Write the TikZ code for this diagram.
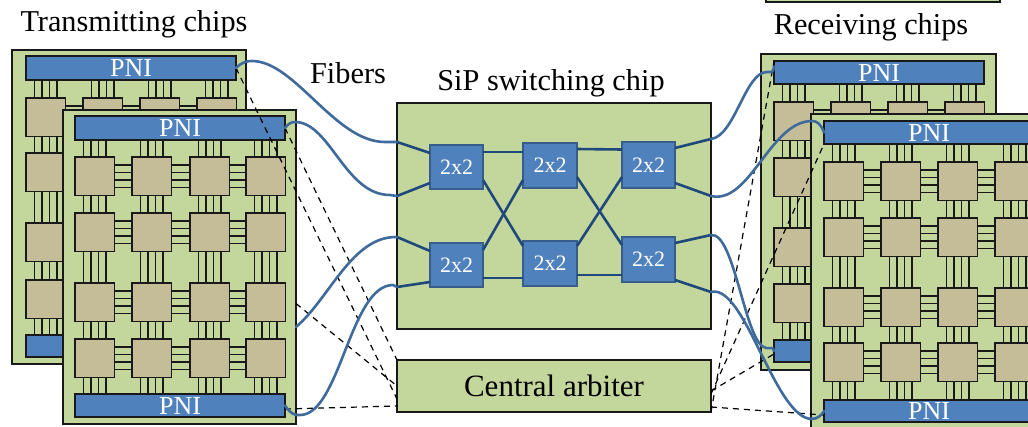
\documentclass[tikz,border=0pt]{standalone}
\usepackage{fontspec}
\setmainfont{Liberation Serif}
\definecolor{chipgreen}{HTML}{C3D69B}
\definecolor{celltan}{HTML}{C4BD97}
\definecolor{pniblue}{HTML}{4F81BD}
\definecolor{fiberblue}{HTML}{3F6A9C}
\definecolor{swedge}{HTML}{385D8A}
\definecolor{swline}{HTML}{1F497D}
\tikzset{
  every node/.style={inner sep=0pt,outer sep=0pt},
  chipbox/.style={draw=black!90,line width=2pt,fill=chipgreen},
  pnibox/.style={draw=black!90,line width=1.5pt,fill=pniblue,text=white,font=\fontsize{26}{30}\selectfont},
  cellbox/.style={draw=black!90,line width=1.5pt,fill=celltan},
  swbox/.style={draw=swedge,line width=2pt,fill=pniblue,text=white,font=\fontsize{22}{26}\selectfont},
  caption/.style={text=black,font=\fontsize{30.3}{36}\selectfont},
  arbbox/.style={chipbox,text=black,font=\fontsize{31}{36}\selectfont},
  linkwire/.style={draw=black!90,line width=1.4pt},
  fiber/.style={draw=fiberblue,line width=2.6pt,line cap=round},
  swwire/.style={draw=swline,line width=2.6pt},
  ctrl/.style={draw=black,line width=1.2pt,dash pattern=on 6pt off 5pt},
}
\newcommand\bx[7]{%
  \pgfmathsetmacro\bxw{(#4)-(#2)}%
  \pgfmathsetmacro\bxh{(#5)-(#3)}%
  \pgfmathsetmacro\bxx{((#2)+(#4))/2}%
  \pgfmathsetmacro\bxy{((#3)+(#5))/2}%
  \node[#6,minimum width=\bxw pt,minimum height=\bxh pt] (#1) at (\bxx,\bxy) {#7};%
}
% prefix, chip x1,y1,x2,y2, pni x1,x2, cell xs
\newcommand\chipdraw[8]{%
  \bx{#1}{#2}{#3}{#4}{#5}{chipbox}{}%
  \bx{#1-top}{#6}{\pniTopA}{#7}{\pniTopB}{pnibox}{PNI}%
  \bx{#1-bot}{#6}{\pniBotA}{#7}{\pniBotB}{pnibox}{PNI}%
  \foreach \cx [count=\c] in {#8} {%
    \foreach \ry [count=\r] in \cellrows {%
      \bx{#1-\r-\c}{\cx}{\ry}{\cx+39.5}{\ry+38.5}{cellbox}{}%
    }%
  }%
  \foreach \o in {-11.25,-3.75,3.75,11.25} {%
    \foreach \c in {1,2,3,4} {%
      \draw[linkwire] ([xshift=\o pt]#1-1-\c.north) -- ([xshift=\o pt]#1-1-\c.north |- #1-top.south);%
      \draw[linkwire] ([xshift=\o pt]#1-4-\c.south) -- ([xshift=\o pt]#1-4-\c.south |- #1-bot.north);%
      \foreach \r/\s in {1/2,2/3,3/4} {%
        \draw[linkwire] ([xshift=\o pt]#1-\r-\c.south) -- ([xshift=\o pt]#1-\r-\c.south |- #1-\s-\c.north);%
      }%
    }%
    \foreach \r in {1,2,3,4} {%
      \foreach \c/\d in {1/2,2/3,3/4} {%
        \draw[linkwire] ([yshift=\o pt]#1-\r-\c.east) -- ([yshift=\o pt]#1-\r-\c.east -| #1-\r-\d.west);%
      }%
    }%
  }%
}
\begin{document}
\begin{tikzpicture}[x=1pt,y=-1pt]
\useasboundingbox (0,0) rectangle (1028,426);
\clip (0,0) rectangle (1028,426);
\fill[white] (0,0) rectangle (1028,426);
% strip of a box at the top edge
\bx{topstrip}{766}{-20}{1000}{2}{chipbox}{}
% transmitting chips
\def\pniTopA{56}\def\pniTopB{80}\def\pniBotA{335}\def\pniBotB{357}\def\cellrows{98,153,223,280}
\chipdraw{txa}{12}{50}{246}{364}{26}{236}{26,83,140,197}
\def\pniTopA{116}\def\pniTopB{140}\def\pniBotA{394}\def\pniBotB{417}\def\cellrows{157,213,283,339}
\chipdraw{txb}{63}{110}{296}{424}{75}{285}{75,132,190,246}
% receiving chips
\def\pniTopA{61}\def\pniTopB{84}\def\pniBotA{340}\def\pniBotB{362}\def\cellrows{102,158,228,284}
\chipdraw{rxa}{761}{54}{996}{370}{774}{984}{774,831,888,945}
\def\pniTopA{121}\def\pniTopB{144}\def\pniBotA{400}\def\pniBotB{422}\def\cellrows{162,218,288,343}
\chipdraw{rxb}{811}{114}{1045}{445}{824}{1034}{824,881,938,995}
% switch chip and arbiter
\bx{sw}{397}{103}{711}{329}{chipbox}{}
\bx{arb}{397}{360}{711}{412}{arbbox}{Central arbiter}
\bx{a1}{430}{145}{483}{189}{swbox}{2x2}
\bx{a2}{430}{243}{483}{287}{swbox}{2x2}
\bx{b1}{523}{143}{577}{188}{swbox}{2x2}
\bx{b2}{523}{241}{577}{286}{swbox}{2x2}
\bx{c1}{622}{142}{675}{188}{swbox}{2x2}
\bx{c2}{622}{237}{675}{282}{swbox}{2x2}
% captions
\node[caption] (captx) at (134,24) {Transmitting chips};
\node[caption] (capfib) at (348,73) {Fibers};
\node[caption] (capsw) at (551,83) {SiP switching chip};
\node[caption] (caprx) at (871,27) {Receiving chips};
% fiber end points on the switch chip edge
\coordinate (l1) at (397,142);
\coordinate (l2) at (397,196);
\coordinate (l3) at (397,237);
\coordinate (l4) at (397,287);
\coordinate (r1) at (711,139);
\coordinate (r2) at (711,196);
\coordinate (r3) at (711,235);
\coordinate (r4) at (711,292);
% switch wiring
\draw[swwire] (l1) -- ([yshift=14pt]a1.west);
\draw[swwire] (l2) -- ([yshift=-16pt]a1.west);
\draw[swwire] (l3) -- ([yshift=14pt]a2.west);
\draw[swwire] (l4) -- ([yshift=-17pt]a2.west);
\draw[swwire] (r1) -- ([yshift=17pt]c1.east);
\draw[swwire] (r2) -- ([yshift=-18pt]c1.east);
\draw[swwire] (r3) -- ([yshift=16.5pt]c2.east);
\draw[swwire] (r4) -- ([yshift=-20.5pt]c2.east);
\draw[swwire] ([yshift=15pt]a1.east) -- ([yshift=13.5pt]b1.west);
\draw[swwire] ([yshift=-13pt]a2.east) -- ([yshift=-14.5pt]b2.west);
\draw[swwire] ([yshift=16.5pt]b1.east) -- ([yshift=15.5pt]c1.west);
\draw[swwire] ([yshift=-11.5pt]b2.east) -- ([yshift=-15.5pt]c2.west);
\draw[swwire] ([yshift=-13pt]a1.east) -- ([yshift=17.5pt]b2.west);
\draw[swwire] ([yshift=15pt]a2.east) -- ([yshift=-14.5pt]b1.west);
\draw[swwire] ([yshift=-11.5pt]b1.east) -- ([yshift=14.5pt]c2.west);
\draw[swwire] ([yshift=17.5pt]b2.east) -- ([yshift=-12pt]c1.west);
% control lines
\draw[ctrl] (txa-top.east) -- ([yshift=-13pt]arb.west);
\draw[ctrl] (txb-top.east) -- ([yshift=26pt]arb.west);
\draw[ctrl] ([yshift=-36.5pt]txb.east) -- (arb.west);
\draw[ctrl] ([yshift=-3.5pt]txb-bot.east) -- ([yshift=-20pt]arb.west);
\draw[ctrl] ([yshift=-26pt]arb.east) -- ([yshift=11pt]rxa-top.west);
\draw[ctrl] ([yshift=-8pt]arb.east) -- (rxb-top.south west);
\draw[ctrl] ([yshift=-5pt]arb.east) -- ([yshift=-3pt]rxa-bot.west);
\draw[ctrl] ([yshift=-21pt]arb.east) -- ([yshift=-4pt]rxb-bot.west);
% fibers
\draw[fiber] (txa-top.east) .. controls (242,62) and (247,61) .. (252,61)
  .. controls (295,61) and (335,142) .. (385,142) -- (l1);
\draw[fiber] (txb-top.east) .. controls (288,124) and (291,122) .. (295,122)
  .. controls (330,122) and (345,195) .. (390,195) -- (l2);
\draw[fiber] ([yshift=-60pt]txb.east) .. controls (330,298) and (352,236) .. (l3);
\draw[fiber] ([yshift=0pt]txb-bot.east) .. controls (290,413) and (295,416) .. (300,415)
  .. controls (340,415) and (350,285) .. (393,285) -- (l4);
\draw[fiber] (r1) .. controls (735,136) and (745,72) .. (767,72)
  .. controls (770,72) and (773,74) .. ([yshift=6pt]rxa-top.west);
\draw[fiber] (r2) .. controls (750,205) and (770,121) .. (812,121)
  .. controls (817,121) and (821,124) .. (rxb-top.west);
\draw[fiber] (r3) .. controls (735,232) and (745,345) .. (766,348)
  .. controls (770,349) and (773,346) .. (rxa-bot.west);
\draw[fiber] (r4) .. controls (745,283) and (775,419) .. (812,419)
  .. controls (817,419) and (822,415) .. (rxb-bot.west);
\end{tikzpicture}
\end{document}
